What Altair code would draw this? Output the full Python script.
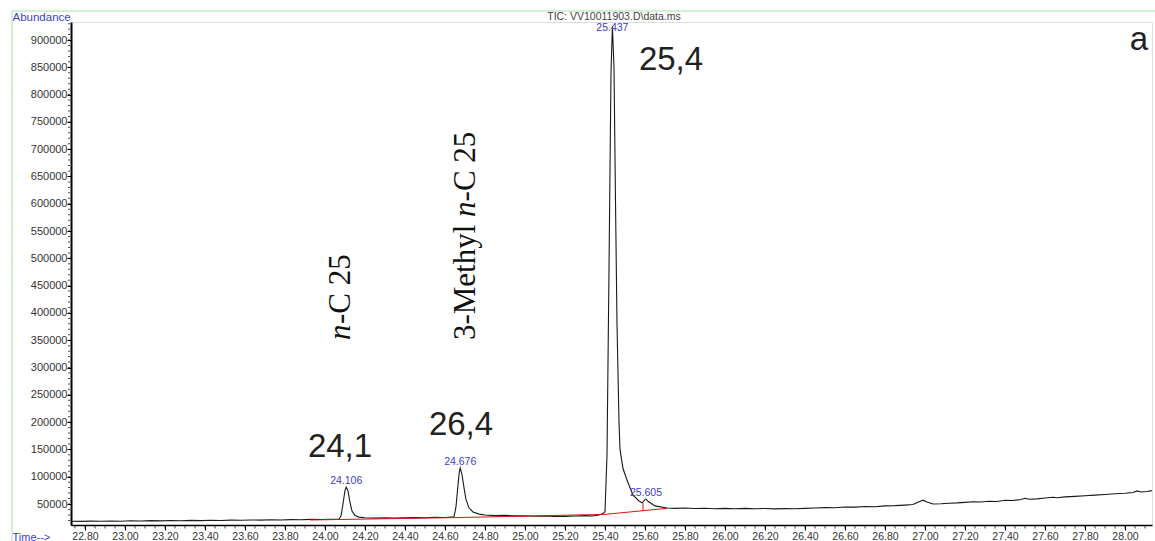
import altair as alt
import pandas as pd

# ---------------- data ----------------
TIME = [22.73, 22.78, 22.83, 22.88, 22.93, 22.98, 23.03, 23.08, 23.13, 23.18,
        23.23, 23.28, 23.33, 23.38, 23.43, 23.48, 23.53, 23.58, 23.63, 23.68,
        23.73, 23.78, 23.83, 23.88, 23.93, 23.98, 24.03, 24.07, 24.08, 24.09,
        24.10, 24.106, 24.115, 24.125, 24.135, 24.15, 24.17, 24.20, 24.25, 24.30,
        24.35, 24.40, 24.45, 24.50, 24.55, 24.60, 24.645, 24.655, 24.665, 24.672,
        24.676, 24.685, 24.695, 24.705, 24.72, 24.74, 24.77, 24.80, 24.85, 24.90,
        24.95, 25.00, 25.05, 25.10, 25.15, 25.20, 25.25, 25.30, 25.34, 25.37,
        25.39, 25.40, 25.41, 25.42, 25.43, 25.437, 25.445, 25.452, 25.46, 25.47,
        25.475, 25.49, 25.51, 25.54, 25.57, 25.585, 25.60, 25.605, 25.615, 25.65,
        25.71, 25.75, 25.80, 25.85, 25.90, 25.95, 26.00, 26.05, 26.10, 26.15,
        26.20, 26.25, 26.30, 26.35, 26.40, 26.45, 26.50, 26.55, 26.60, 26.65,
        26.70, 26.75, 26.80, 26.85, 26.90, 26.94, 26.97, 26.99, 27.01, 27.04,
        27.08, 27.12, 27.16, 27.20, 27.24, 27.28, 27.32, 27.36, 27.40, 27.44,
        27.48, 27.50, 27.52, 27.56, 27.60, 27.64, 27.66, 27.70, 27.75, 27.80,
        27.85, 27.90, 27.95, 28.00, 28.04, 28.06, 28.08, 28.11, 28.135]
ABUND = [18500, 18100, 18700, 18300, 18900, 18500, 19200, 18800, 19500, 19100,
         19700, 19300, 20000, 19600, 20300, 19900, 20500, 20200, 20800, 20400,
         21100, 20800, 21400, 21100, 21800, 21500, 22000, 22400, 28000, 50000,
         75000, 81000, 74000, 53000, 37000, 29000, 26000, 24800, 24200, 24700,
         24300, 24900, 25300, 24900, 25700, 25300, 26500, 45000, 85000, 110000,
         116000, 104000, 80000, 58000, 43000, 35500, 31500, 29800, 28700, 29100,
         28200, 28400, 27600, 27900, 27100, 27400, 27900, 28700, 28100, 30000,
         32500, 36000, 140000, 480000, 840000, 925000, 850000, 620000, 380000, 200000,
         150000, 115000, 94000, 66000, 55500, 52000, 58000, 59000, 55000, 46500,
         42700, 42000, 42600, 41700, 42300, 41400, 42000, 41300, 41900, 41400,
         41800, 41000, 41600, 41200, 41900, 42600, 43300, 43000, 44500, 44200,
         45400, 45100, 46600, 47000, 48000, 49000, 54000, 57000, 53500, 50000,
         50500, 51400, 52000, 53000, 54200, 53600, 55000, 54600, 56800, 56300,
         58200, 60500, 58600, 59400, 61000, 62400, 61500, 63000, 64000, 65200,
         66300, 67500, 68800, 69800, 71000, 74000, 72000, 73000, 74500]

# integration baseline (red)
BASE_T = [23.925, 24.64, 25.40, 25.71]
BASE_A = [20700, 25000, 31000, 42000]
# drop line at 25.59
DROP_T = [25.59]
DROP_A1 = [37200]
DROP_A2 = [51800]

# blue retention-time labels
PEAK_TEXT = ["24.106", "24.676", "25.437", "25.605"]
PEAK_T = [24.106, 24.676, 25.437, 25.605]
PEAK_LABEL_A = [83000, 118000, 912000, 61000]

# large numeric labels
BIG_TEXT = ["24,1", "26,4", "25,4", "a"]
BIG_T = [24.075, 24.68, 25.73, 28.07]
BIG_A = [136000, 176400, 845000, 881700]

# rotated compound names (italic "n" split out)
ROT_TEXT = ["-C 25", "3-Methyl ", "-C 25"]
ROT_T = [24.125, 24.75, 24.75]
ROT_A = [379800, 350400, 604300]
ITAL_TEXT = ["n", "n"]
ITAL_T = [24.125, 24.75]
ITAL_A = [350400, 575900]

TITLE = "TIC: VV10011903.D\\data.ms"

X_MAJOR = [22.8, 23.0, 23.2, 23.4, 23.6, 23.8, 24.0, 24.2, 24.4, 24.6, 24.8,
           25.0, 25.2, 25.4, 25.6, 25.8, 26.0, 26.2, 26.4, 26.6, 26.8, 27.0,
           27.2, 27.4, 27.6, 27.8, 28.0]
X_MINOR = [round(22.75 + 0.05 * i, 2) for i in range(108)]
Y_MAJOR = list(range(50000, 900001, 50000))
Y_MINOR = list(range(20000, 930001, 10000))

# ---------------- chart ----------------
trace = pd.DataFrame({"t": TIME, "a": ABUND})
base_df = pd.DataFrame({"t": BASE_T, "a": BASE_A})
drop_df = pd.DataFrame({"t": DROP_T, "a": DROP_A1, "a2": DROP_A2})
peak_df = pd.DataFrame({"t": PEAK_T, "a": PEAK_LABEL_A, "txt": PEAK_TEXT})
big_df = pd.DataFrame({"t": BIG_T, "a": BIG_A, "txt": BIG_TEXT})
rot_df = pd.DataFrame({"t": ROT_T, "a": ROT_A, "txt": ROT_TEXT})
ital_df = pd.DataFrame({"t": ITAL_T, "a": ITAL_A, "txt": ITAL_TEXT})
xmin_df = pd.DataFrame({"t": X_MINOR})
ymin_df = pd.DataFrame({"a": Y_MINOR})
title_df = pd.DataFrame({"txt": [TITLE]})

xs = alt.Scale(domain=[22.73, 28.135], nice=False, zero=False)
ys = alt.Scale(domain=[11530, 933000], nice=False, zero=False)

x_axis = alt.Axis(
    values=X_MAJOR, format=".2f",
    tickSize=5, tickColor="black", tickWidth=1,
    domainColor="black", domainWidth=1.5,
    labelFontSize=10.5, labelColor="#333", labelPadding=1,
    labelFont="Liberation Sans",
    labelOverlap=False, labelFlush=False, grid=False,
    title="Time-->", titleX=-59, titleY=12, titleAlign="left",
    titleBaseline="middle", titleColor="#3d3dcc", titleFontSize=11,
    titleFontWeight="normal", titleFont="Liberation Sans",
)
y_axis = alt.Axis(
    values=Y_MAJOR, format="d",
    tickSize=4, tickColor="black", tickWidth=1,
    domainColor="black", domainWidth=2,
    labelFontSize=11, labelColor="#333", labelPadding=0,
    labelFont="Liberation Sans",
    labelOverlap=False, labelFlush=False, grid=False,
    title="Abundance", titleAngle=0, titleX=-59, titleY=-5,
    titleAlign="left", titleBaseline="middle", titleColor="#3d3dcc",
    titleFontSize=11.5, titleFontWeight="normal", titleFont="Liberation Sans",
)


def X(field="t:Q"):
    return alt.X(field, scale=xs, axis=x_axis)


def Y(field="a:Q"):
    return alt.Y(field, scale=ys, axis=y_axis)


line = alt.Chart(trace).mark_line(color="#1a1a1a", strokeWidth=1.1, clip=True).encode(
    x=X(), y=Y())
red = alt.Chart(base_df).mark_line(color="#e01010", strokeWidth=1).encode(x=X(), y=Y())
drop = alt.Chart(drop_df).mark_rule(color="#e01010", strokeWidth=1).encode(
    x=X(), y=Y(), y2="a2:Q")

x_minor = alt.Chart(xmin_df).mark_tick(
    orient="vertical", size=3, thickness=1, color="black").encode(
    x=X(), y=alt.value(505))
y_minor = alt.Chart(ymin_df).mark_tick(
    orient="horizontal", size=2, thickness=1, color="black").encode(
    y=Y(), x=alt.value(-2))

peaks = alt.Chart(peak_df).mark_text(
    font="Liberation Sans", fontSize=10.5, color="#3d3dcc",
    align="center", baseline="bottom").encode(x=X(), y=Y(), text="txt:N")

big = alt.Chart(big_df).mark_text(
    font="Liberation Sans", fontSize=33, color="#222",
    align="center", baseline="alphabetic").encode(x=X(), y=Y(), text="txt:N")

rot = alt.Chart(rot_df).mark_text(
    font="Liberation Serif", fontSize=31, color="#111", angle=270,
    align="left", baseline="alphabetic").encode(x=X(), y=Y(), text="txt:N")
ital = alt.Chart(ital_df).mark_text(
    font="Liberation Serif", fontSize=31, fontStyle="italic", color="#111", angle=270,
    align="left", baseline="alphabetic").encode(x=X(), y=Y(), text="txt:N")

title = alt.Chart(title_df).mark_text(
    font="Liberation Sans", fontSize=10.5, color="#444",
    align="center", baseline="bottom").encode(
    x=alt.value(543), y=alt.value(0), text="txt:N")

frame_top = alt.Chart(title_df).mark_rule(color="#a8e0a8", strokeWidth=1).encode(
    x=alt.value(-59), x2=alt.value(1084), y=alt.value(-11))
frame_left = alt.Chart(title_df).mark_rule(color="#a8e0a8", strokeWidth=1).encode(
    x=alt.value(-59), y=alt.value(-11), y2=alt.value(519))

chart = alt.layer(
    line, frame_top, frame_left, x_minor, y_minor, red, drop, peaks, big, rot, ital, title
).properties(
    width=1081, height=503,
    autosize=alt.AutoSizeParams(type="none"),
    padding={"left": 71, "top": 22, "right": 3, "bottom": 16},
).configure_view(stroke=None).configure_axis(
    labelOverlap=False
).configure(background="white")

chart.save("out.html", embed_options={"renderer": "svg", "actions": False})
